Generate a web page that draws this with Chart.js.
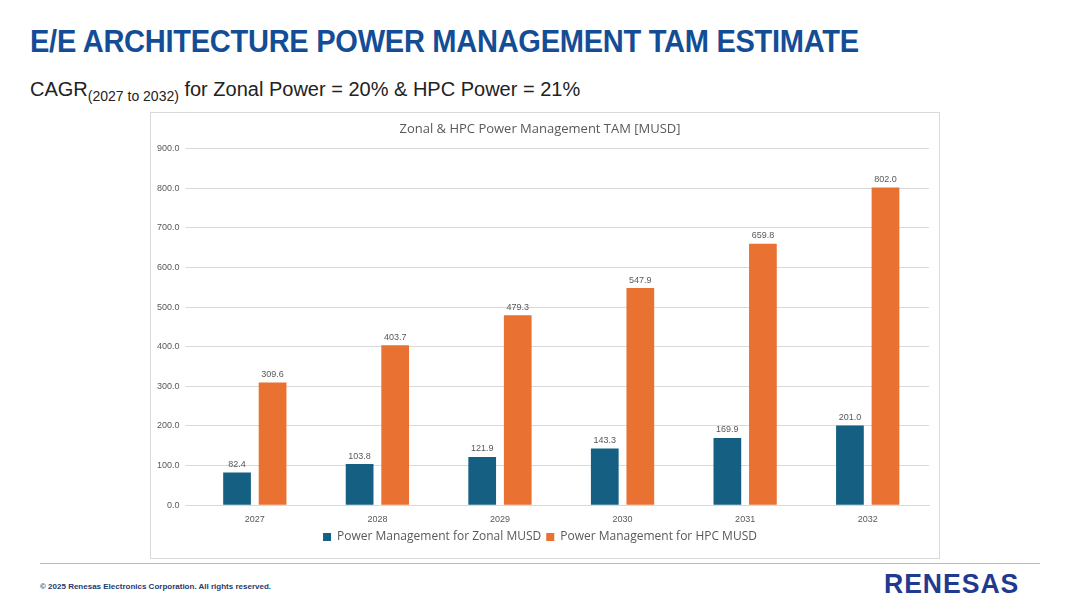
<!DOCTYPE html>
<html><head><meta charset="utf-8">
<script src="https://cdn.jsdelivr.net/npm/chart.js@4"></script>
<style>
body{margin:0;width:1080px;height:608px;background:#fff;font-family:"Liberation Sans",Arial,sans-serif;position:relative;overflow:hidden}
#title{position:absolute;left:30px;top:24px;font-size:31px;font-weight:bold;color:#134d96;letter-spacing:-0.3px;transform:scaleX(0.937);transform-origin:left}
#sub{position:absolute;left:30px;top:78px;font-size:20px;color:#222}
#sub sub{font-size:14px}
#box{position:absolute;left:150px;top:112px;width:788px;height:445px;border:1px solid #d9d9d9}
#rule{position:absolute;left:40px;top:563px;width:1000px;height:1px;background:#bbb}
#copy{position:absolute;left:40px;top:582px;font-size:8px;font-weight:bold;color:#1f3a6e}
#logo{position:absolute;left:884px;top:568px;font-size:28px;font-weight:bold;color:#1f3a8e;letter-spacing:1px;transform:scaleX(0.95);transform-origin:left}
</style></head><body>
<div id="title">E/E ARCHITECTURE POWER MANAGEMENT TAM ESTIMATE</div>
<div id="sub">CAGR<sub>(2027 to 2032)</sub> for Zonal Power = 20% &amp; HPC Power = 21%</div>
<div id="box"><canvas id="c"></canvas></div>
<div id="rule"></div>
<div id="copy">© 2025 Renesas Electronics Corporation. All rights reserved.</div>
<div id="logo">RENESAS</div>
<script>
const years = ['2027', '2028', '2029', '2030', '2031', '2032'];
const zonal = [82.4, 103.8, 121.9, 143.3, 169.9, 201.0];
const hpc = [309.6, 403.7, 479.3, 547.9, 659.8, 802.0];

// draw value labels above each bar
const valueLabels = {
    id: 'valueLabels',
    afterDatasetsDraw(chart) {
        const ctx = chart.ctx;
        ctx.save();
        ctx.font = '9px "Liberation Sans", Arial';
        ctx.fillStyle = '#595959';
        ctx.textAlign = 'center';
        chart.data.datasets.forEach((ds, i) => {
            chart.getDatasetMeta(i).data.forEach((bar, j) => {
                ctx.fillText(ds.data[j].toFixed(1), bar.x, bar.y - 8);
            });
        });
        ctx.restore();
    }
};

new Chart(document.getElementById('c'), {
    type: 'bar',
    data: {
        labels: years,
        datasets: [
            { label: 'Power Management for Zonal MUSD', data: zonal, backgroundColor: '#156082', barPercentage: 0.78, categoryPercentage: 0.58 },
            { label: 'Power Management for HPC MUSD', data: hpc, backgroundColor: '#e97132', barPercentage: 0.78, categoryPercentage: 0.58 }
        ]
    },
    options: {
        responsive: true,
        maintainAspectRatio: false,
        animation: false,
        layout: { padding: { left: 0, right: 10, top: 2, bottom: 5 } },
        plugins: {
            title: { display: true, text: 'Zonal & HPC Power Management TAM [MUSD]', color: '#595959', font: { size: 13, family: 'Open Sans', weight: 'normal' }, padding: { top: 6, bottom: 12 } },
            legend: {
                position: 'bottom',
                labels: { boxWidth: 8, boxHeight: 8, color: '#595959', font: { size: 12, family: 'Open Sans' }, padding: 5 }
            },
            tooltip: { enabled: false }
        },
        scales: {
            x: {
                grid: { display: false },
                border: { color: '#d9d9d9' },
                ticks: { color: '#595959', font: { size: 9 }, padding: 1 }
            },
            y: {
                min: 0, max: 900,
                ticks: { stepSize: 100, color: '#595959', font: { size: 9 }, callback: v => v.toFixed(1), padding: 6 },
                grid: { color: '#d9d9d9' },
                border: { display: false }
            }
        }
    },
    plugins: [valueLabels]
});
</script>
</body></html>
